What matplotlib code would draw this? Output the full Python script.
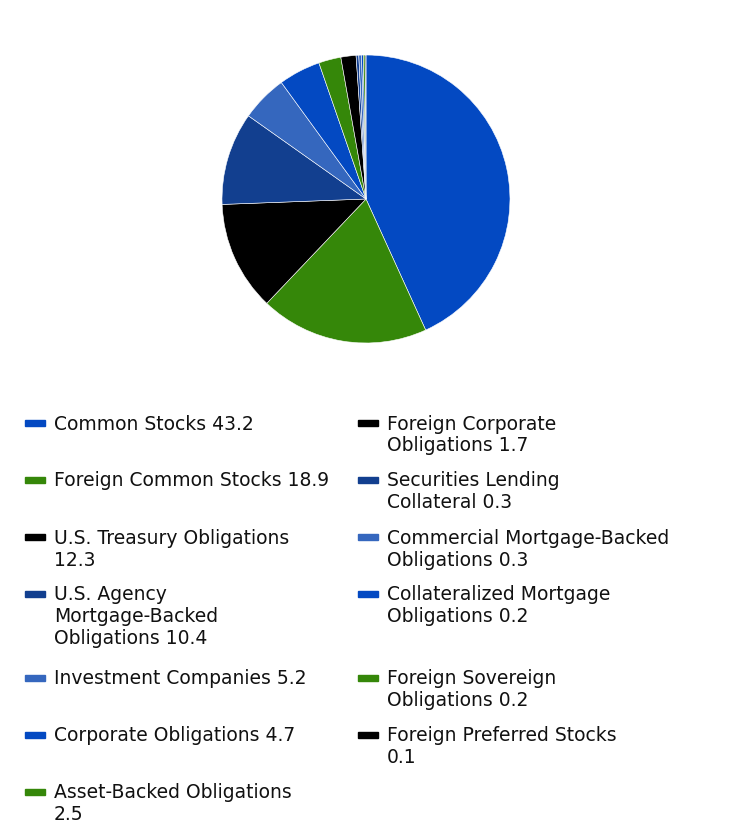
import matplotlib
matplotlib.use('Agg')
import matplotlib.pyplot as plt
from matplotlib.patches import Rectangle

labels = ['Common Stocks', 'Foreign Common Stocks', 'U.S. Treasury Obligations',
          'U.S. Agency Mortgage-Backed Obligations', 'Investment Companies',
          'Corporate Obligations', 'Asset-Backed Obligations',
          'Foreign Corporate Obligations', 'Securities Lending Collateral',
          'Commercial Mortgage-Backed Obligations', 'Collateralized Mortgage Obligations',
          'Foreign Sovereign Obligations', 'Foreign Preferred Stocks']
values = [43.2, 18.9, 12.3, 10.4, 5.2, 4.7, 2.5, 1.7, 0.3, 0.3, 0.2, 0.2, 0.1]
# wrapped legend text as shown
legend_text = ['Common Stocks 43.2', 'Foreign Common Stocks 18.9',
               'U.S. Treasury Obligations\n12.3',
               'U.S. Agency\nMortgage-Backed\nObligations 10.4',
               'Investment Companies 5.2', 'Corporate Obligations 4.7',
               'Asset-Backed Obligations\n2.5',
               'Foreign Corporate\nObligations 1.7', 'Securities Lending\nCollateral 0.3',
               'Commercial Mortgage-Backed\nObligations 0.3',
               'Collateralized Mortgage\nObligations 0.2',
               'Foreign Sovereign\nObligations 0.2', 'Foreign Preferred Stocks\n0.1']
palette = ['#0349C2', '#358709', '#000000', '#123F8F', '#3567BE']
colors = [palette[i % 5] for i in range(len(values))]

W, H = 732, 828
fig = plt.figure(figsize=(W / 100, H / 100), dpi=100)

cx, cy, r = 366, 200, 144
ax = fig.add_axes([(cx - r) / W, 1 - (cy + r) / H, 2 * r / W, 2 * r / H])
ax.pie(values, colors=colors, startangle=90, counterclock=False,
       wedgeprops=dict(edgecolor='white', linewidth=0.4))
ax.set_xlim(-1, 1)
ax.set_ylim(-1, 1)
ax.set_aspect('equal')

# legend, two columns, rows share heights
row_y = [424, 481, 538, 595, 679, 736, 793]
cols = [(25, 54), (358, 387)]
for i, txt in enumerate(legend_text):
    col = 0 if i < 7 else 1
    row = i if i < 7 else i - 7
    mx, tx = cols[col]
    y = row_y[row]
    fig.add_artist(Rectangle((mx / W, 1 - (y + 3) / H), 20 / W, 6 / H,
                             transform=fig.transFigure, color=colors[i]))
    for j, line in enumerate(txt.split('\n')):
        fig.text(tx / W, 1 - (y + j * 22) / H, line, fontsize=13.5,
                 family='DejaVu Sans', va='center', ha='left', color='#111111')

fig.savefig('out.png', dpi=100)
